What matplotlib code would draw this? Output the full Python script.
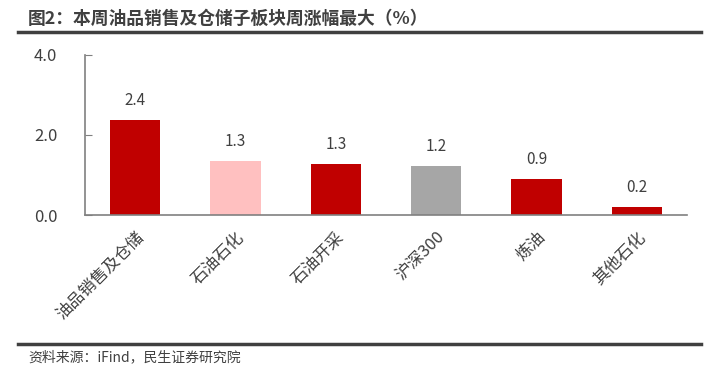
import matplotlib
matplotlib.use("Agg")
import matplotlib.pyplot as plt
from matplotlib.lines import Line2D

plt.rcParams['font.family'] = ['Noto Sans CJK SC', 'DejaVu Sans']

TITLE = "图2：本周油品销售及仓储子板块周涨幅最大（%）"
SOURCE = "资料来源：iFind，民生证券研究院"
categories = ["油品销售及仓储", "石油石化", "石油开采", "沪深300", "炼油", "其他石化"]
values = [2.375, 1.35, 1.28, 1.22, 0.9, 0.2]
labels = ["2.4", "1.3", "1.3", "1.2", "0.9", "0.2"]
colors = ["#C00000", "#FFC0C0", "#C00000", "#A6A6A6", "#C00000", "#C00000"]
yticks = [0, 2, 4]

TXT = "#404040"

fig = plt.figure(figsize=(7.17, 3.76), dpi=100)
ax = fig.add_axes([85 / 717, 1 - 215 / 376, (687 - 85) / 717, 160 / 376])

x = range(len(categories))
ax.bar(x, values, width=0.5, color=colors)
for xi, v, lab in zip(x, values, labels):
    ax.annotate(lab, (xi, v), xytext=(0, 8), textcoords="offset points",
                ha="center", va="bottom", fontsize=11, color=TXT)

ax.set_xlim(-0.5, len(categories) - 0.5)
ax.set_ylim(0, 4)
ax.set_yticks(yticks)
ax.set_yticklabels([f"{t:.1f}" for t in yticks], fontsize=12, color=TXT)
ax.tick_params(axis="y", direction="in", length=5, color="#808080", pad=20)
ax.set_xticks(list(x))
ax.set_xticklabels(categories, rotation=45, ha="right", rotation_mode="anchor",
                   fontsize=12, color=TXT)
ax.tick_params(axis="x", length=0, pad=10)
for s in ("top", "right"):
    ax.spines[s].set_visible(False)
for s in ("left", "bottom"):
    ax.spines[s].set_color("#808080")
    ax.spines[s].set_linewidth(1.2)

fig.text(28 / 717, 1 - 19 / 376, TITLE, fontsize=12.8, fontweight="bold",
         color=TXT, va="center")
fig.add_artist(Line2D([18 / 717, 701 / 717], [1 - 32 / 376] * 2,
                      color="#404040", lw=2.5))
fig.add_artist(Line2D([18 / 717, 701 / 717], [1 - 344 / 376] * 2,
                      color="#404040", lw=2.5))
fig.text(28 / 717, 1 - 357 / 376, SOURCE, fontsize=10, color=TXT, va="center")

fig.savefig("out.png", dpi=100)
